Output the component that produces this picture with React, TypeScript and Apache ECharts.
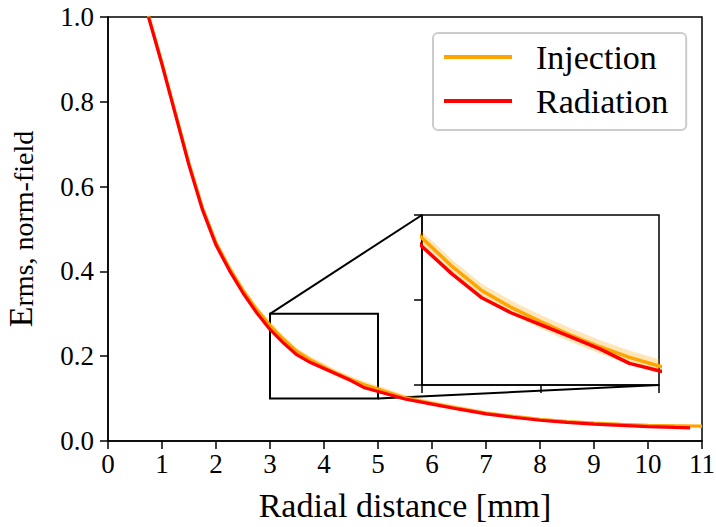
import React, { useEffect, useRef } from "react";
import * as echarts from "echarts";

// ---- data ----
const distInj = [0.75, 1.0, 1.25, 1.5, 1.75, 2.0, 2.25, 2.5, 2.75, 3.0, 3.25, 3.5, 3.75, 4.0, 4.25, 4.5, 4.75, 5.0, 5.5, 6.0, 6.5, 7.0, 7.5, 8.0, 8.5, 9.0, 9.5, 10.0, 10.5, 11.0];
const injection = [1.003, 0.892, 0.773, 0.655, 0.55, 0.468, 0.408, 0.356, 0.311, 0.273, 0.24, 0.2115, 0.1915, 0.1745, 0.159, 0.145, 0.1325, 0.1224, 0.102, 0.089, 0.077, 0.066, 0.058, 0.051, 0.046, 0.042, 0.039, 0.037, 0.036, 0.035];
const injStd = [0.004, 0.004, 0.005, 0.005, 0.006, 0.006, 0.007, 0.007, 0.008, 0.008, 0.008, 0.008, 0.008, 0.008, 0.008, 0.008, 0.008, 0.008, 0.007, 0.006, 0.006, 0.005, 0.005, 0.004, 0.004, 0.004, 0.004, 0.003, 0.003, 0.003];
const distRad = [0.75, 1.0, 1.25, 1.5, 1.75, 2.0, 2.25, 2.5, 2.75, 3.0, 3.25, 3.5, 3.75, 4.0, 4.25, 4.5, 4.75, 5.0, 5.5, 6.0, 6.5, 7.0, 7.5, 8.0, 8.5, 9.0, 9.5, 10.0, 10.5, 10.78];
const radiation = [1.0, 0.888, 0.769, 0.65, 0.545, 0.462, 0.402, 0.349, 0.303, 0.263, 0.231, 0.203, 0.185, 0.171, 0.157, 0.1425, 0.1255, 0.1168, 0.099, 0.087, 0.075, 0.064, 0.056, 0.049, 0.044, 0.04, 0.037, 0.034, 0.032, 0.031];

const seriesNames = ["Injection", "Radiation"];
const xRange = [0, 11];
const yRange = [0, 1];
const zoomX = [3, 5];
const zoomY = [0.1, 0.3];

const FONT = "Liberation Serif";
const ORANGE = "#FFA500";
const RED = "#FF0000";
const BAND = "rgba(255,165,0,0.28)";

const pairs = (xs: number[], ys: number[]) => xs.map((x, i) => [x, ys[i]]);

const bandRender = (params: any, api: any) => {
  if (params.dataIndex !== 0) return null;
  const upper = distInj.map((x, i) => api.coord([x, injection[i] + injStd[i]]));
  const lower = distInj.map((x, i) => api.coord([x, injection[i] - injStd[i]])).reverse();
  const cs = params.coordSys;
  return {
    type: "polygon",
    shape: { points: upper.concat(lower) },
    style: { fill: BAND },
    clipPath: { type: "rect", shape: { x: cs.x, y: cs.y, width: cs.width, height: cs.height } },
  };
};

export default function App() {
  const ref = useRef<HTMLDivElement>(null);
  useEffect(() => {
    document.body.style.margin = "0";
    if (!ref.current) return;
    const chart = echarts.init(ref.current, undefined, { renderer: "svg" });
    const axisLine = { show: true, lineStyle: { color: "#000", width: 1.5 } };
    const axisTick = { show: true, inside: false, length: 8, lineStyle: { color: "#000", width: 1.5 } };
    const option: any = {
      animation: false,
      backgroundColor: "#fff",
      grid: [
        { left: 108, top: 17, width: 594, height: 424, show: true, borderColor: "#000", borderWidth: 1.5, backgroundColor: "transparent", containLabel: false, outerBoundsMode: "none" },
        { left: 422, top: 215, width: 237, height: 170, show: true, borderColor: "#000", borderWidth: 1.5, backgroundColor: "#fff", z: 3, containLabel: false, outerBoundsMode: "none" },
      ],
      xAxis: [
        {
          type: "value", gridIndex: 0, min: xRange[0], max: xRange[1], interval: 1,
          axisLine, axisTick, splitLine: { show: false },
          axisLabel: { fontFamily: FONT, fontSize: 27, color: "#000", margin: 9 },
          name: "Radial distance [mm]", nameLocation: "middle", nameGap: 47,
          nameTextStyle: { fontFamily: FONT, fontSize: 34, color: "#000" },
        },
        {
          type: "value", gridIndex: 1, min: zoomX[0], max: zoomX[1], interval: 1,
          axisLine, axisTick, splitLine: { show: false }, axisLabel: { show: false }, z: 4,
        },
      ],
      yAxis: [
        {
          type: "value", gridIndex: 0, min: yRange[0], max: yRange[1], interval: 0.2,
          axisLine, axisTick, splitLine: { show: false },
          axisLabel: { fontFamily: FONT, fontSize: 27, color: "#000", margin: 14, formatter: (v: number) => v.toFixed(1) },
          name: "{e|E}{s|rms, norm-field}", nameLocation: "middle", nameGap: 71, nameRotate: 90,
          nameTextStyle: {
            fontFamily: FONT, color: "#000",
            rich: {
              e: { fontFamily: FONT, fontSize: 34, color: "#000", verticalAlign: "bottom", lineHeight: 34 },
              s: { fontFamily: FONT, fontSize: 28, color: "#000", verticalAlign: "bottom", lineHeight: 32 },
            },
          },
        },
        {
          type: "value", gridIndex: 1, min: zoomY[0], max: zoomY[1], interval: 0.1,
          axisLine, axisTick, splitLine: { show: false }, axisLabel: { show: false }, z: 4,
        },
      ],
      legend: {
        data: seriesNames,
        orient: "vertical",
        left: 433, top: 33,
        padding: [7, 18, 12, 11],
        itemWidth: 68, itemHeight: 4, itemGap: 10,
        icon: "rect",
        borderColor: "#cccccc", borderWidth: 2, borderRadius: 5,
        backgroundColor: "#fff",
        textStyle: { fontFamily: FONT, fontSize: 34, color: "#000", lineHeight: 34, padding: [0, 0, 0, 19] },
      },
      series: [
        { type: "custom", xAxisIndex: 0, yAxisIndex: 0, renderItem: bandRender, data: [[4, 0.5]], silent: true, z: 2 },
        { name: seriesNames[0], type: "line", xAxisIndex: 0, yAxisIndex: 0, data: pairs(distInj, injection), showSymbol: false, lineStyle: { color: ORANGE, width: 3.2 }, itemStyle: { color: ORANGE }, z: 3 },
        { name: seriesNames[1], type: "line", xAxisIndex: 0, yAxisIndex: 0, data: pairs(distRad, radiation), showSymbol: false, lineStyle: { color: RED, width: 3.2 }, itemStyle: { color: RED }, z: 4 },
        { type: "custom", xAxisIndex: 1, yAxisIndex: 1, renderItem: bandRender, data: [[4, 0.2]], silent: true, z: 5 },
        { name: seriesNames[0], type: "line", xAxisIndex: 1, yAxisIndex: 1, data: pairs(distInj, injection), showSymbol: false, clip: true, lineStyle: { color: ORANGE, width: 3.5 }, itemStyle: { color: ORANGE }, z: 6 },
        { name: seriesNames[1], type: "line", xAxisIndex: 1, yAxisIndex: 1, data: pairs(distRad, radiation), showSymbol: false, clip: true, lineStyle: { color: RED, width: 3.5 }, itemStyle: { color: RED }, z: 7 },
      ],
    };
    chart.setOption(option);

    const p1 = chart.convertToPixel({ xAxisIndex: 0, yAxisIndex: 0 }, [zoomX[0], zoomY[1]]) as number[];
    const p2 = chart.convertToPixel({ xAxisIndex: 0, yAxisIndex: 0 }, [zoomX[1], zoomY[0]]) as number[];
    const q1 = chart.convertToPixel({ xAxisIndex: 1, yAxisIndex: 1 }, [zoomX[0], zoomY[1]]) as number[];
    const q2 = chart.convertToPixel({ xAxisIndex: 1, yAxisIndex: 1 }, [zoomX[1], zoomY[0]]) as number[];
    const stroke = { stroke: "#000", lineWidth: 2, fill: "none" };
    chart.setOption({
      graphic: [
        { type: "rect", z: 1, shape: { x: p1[0], y: p1[1], width: p2[0] - p1[0], height: p2[1] - p1[1] }, style: stroke },
        { type: "line", z: 1, shape: { x1: p1[0], y1: p1[1], x2: q1[0], y2: q1[1] }, style: stroke },
        { type: "line", z: 1, shape: { x1: p2[0], y1: p2[1], x2: q2[0], y2: q2[1] }, style: stroke },
      ],
    });
    return () => chart.dispose();
  }, []);
  return <div ref={ref} style={{ position: "absolute", left: 0, top: 0, width: 716, height: 527 }} />;
}
